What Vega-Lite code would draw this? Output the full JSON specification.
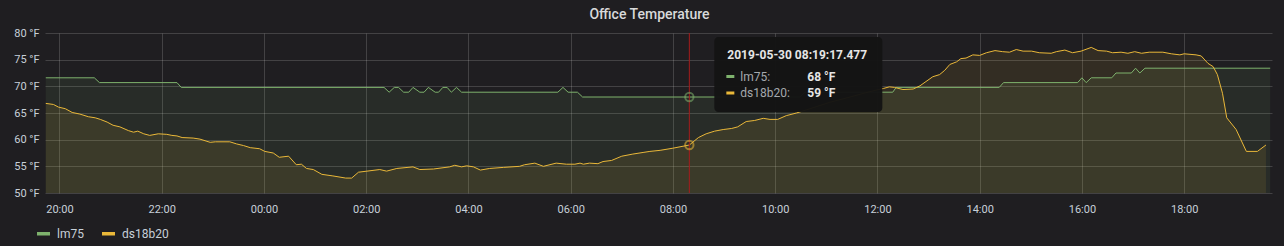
{
  "$schema": "https://vega.github.io/schema/vega-lite/v6.json",
  "width": 1227,
  "height": 160,
  "autosize": {"type": "none"},
  "padding": {"left": 45, "top": 33, "right": 12, "bottom": 53},
  "background": "#1f1e21",
  "title": {"text": "Office Temperature", "font": "Roboto", "fontSize": 14, "fontWeight": 500, "color": "#d8d9da", "anchor": "middle", "frame": "group", "dx": -9, "offset": 5},
  "config": {
    "view": {"stroke": null},
    "font": "Roboto",
    "axis": {"labelFont": "Roboto", "labelFontSize": 11, "labelColor": "#c7d0d9", "gridColor": "#ffffff", "gridOpacity": 0.16, "gridWidth": 1, "domain": false, "ticks": false}
  },
  "datasets": {
    "temps": [
      {"time": "2019-05-29T19:44", "sensor": "lm75", "temp": 71.6},
      {"time": "2019-05-29T20:41", "sensor": "lm75", "temp": 71.6},
      {"time": "2019-05-29T20:47", "sensor": "lm75", "temp": 70.7},
      {"time": "2019-05-29T22:18", "sensor": "lm75", "temp": 70.7},
      {"time": "2019-05-29T22:23", "sensor": "lm75", "temp": 69.8},
      {"time": "2019-05-30T02:21", "sensor": "lm75", "temp": 69.8},
      {"time": "2019-05-30T02:27", "sensor": "lm75", "temp": 68.9},
      {"time": "2019-05-30T02:33", "sensor": "lm75", "temp": 69.8},
      {"time": "2019-05-30T02:38", "sensor": "lm75", "temp": 69.8},
      {"time": "2019-05-30T02:44", "sensor": "lm75", "temp": 68.9},
      {"time": "2019-05-30T02:50", "sensor": "lm75", "temp": 68.9},
      {"time": "2019-05-30T02:55", "sensor": "lm75", "temp": 69.8},
      {"time": "2019-05-30T03:03", "sensor": "lm75", "temp": 68.9},
      {"time": "2019-05-30T03:08", "sensor": "lm75", "temp": 68.9},
      {"time": "2019-05-30T03:13", "sensor": "lm75", "temp": 69.8},
      {"time": "2019-05-30T03:21", "sensor": "lm75", "temp": 68.9},
      {"time": "2019-05-30T03:25", "sensor": "lm75", "temp": 68.9},
      {"time": "2019-05-30T03:30", "sensor": "lm75", "temp": 69.8},
      {"time": "2019-05-30T03:35", "sensor": "lm75", "temp": 69.8},
      {"time": "2019-05-30T03:40", "sensor": "lm75", "temp": 68.9},
      {"time": "2019-05-30T03:46", "sensor": "lm75", "temp": 69.8},
      {"time": "2019-05-30T03:52", "sensor": "lm75", "temp": 68.9},
      {"time": "2019-05-30T05:45", "sensor": "lm75", "temp": 68.9},
      {"time": "2019-05-30T05:51", "sensor": "lm75", "temp": 69.8},
      {"time": "2019-05-30T05:57", "sensor": "lm75", "temp": 68.9},
      {"time": "2019-05-30T06:08", "sensor": "lm75", "temp": 68.9},
      {"time": "2019-05-30T06:14", "sensor": "lm75", "temp": 68.0},
      {"time": "2019-05-30T08:19:17", "sensor": "lm75", "temp": 68.0},
      {"time": "2019-05-30T10:29", "sensor": "lm75", "temp": 68.0},
      {"time": "2019-05-30T10:35", "sensor": "lm75", "temp": 68.9},
      {"time": "2019-05-30T12:18", "sensor": "lm75", "temp": 68.9},
      {"time": "2019-05-30T12:22", "sensor": "lm75", "temp": 69.8},
      {"time": "2019-05-30T14:23", "sensor": "lm75", "temp": 69.8},
      {"time": "2019-05-30T14:28", "sensor": "lm75", "temp": 70.7},
      {"time": "2019-05-30T15:55", "sensor": "lm75", "temp": 70.7},
      {"time": "2019-05-30T16:00", "sensor": "lm75", "temp": 71.6},
      {"time": "2019-05-30T16:05", "sensor": "lm75", "temp": 70.7},
      {"time": "2019-05-30T16:11", "sensor": "lm75", "temp": 71.6},
      {"time": "2019-05-30T16:35", "sensor": "lm75", "temp": 71.6},
      {"time": "2019-05-30T16:40", "sensor": "lm75", "temp": 72.5},
      {"time": "2019-05-30T16:58", "sensor": "lm75", "temp": 72.5},
      {"time": "2019-05-30T17:03", "sensor": "lm75", "temp": 73.4},
      {"time": "2019-05-30T17:08", "sensor": "lm75", "temp": 72.5},
      {"time": "2019-05-30T17:14", "sensor": "lm75", "temp": 73.4},
      {"time": "2019-05-30T19:41", "sensor": "lm75", "temp": 73.4},
      {"time": "2019-05-29T19:44", "sensor": "ds18b20", "temp": 66.8},
      {"time": "2019-05-29T19:53", "sensor": "ds18b20", "temp": 66.6},
      {"time": "2019-05-29T19:59", "sensor": "ds18b20", "temp": 66.1},
      {"time": "2019-05-29T20:07", "sensor": "ds18b20", "temp": 65.8},
      {"time": "2019-05-29T20:15", "sensor": "ds18b20", "temp": 65.1},
      {"time": "2019-05-29T20:24", "sensor": "ds18b20", "temp": 64.8},
      {"time": "2019-05-29T20:34", "sensor": "ds18b20", "temp": 64.3},
      {"time": "2019-05-29T20:42", "sensor": "ds18b20", "temp": 64.1},
      {"time": "2019-05-29T20:48", "sensor": "ds18b20", "temp": 63.8},
      {"time": "2019-05-29T20:56", "sensor": "ds18b20", "temp": 63.3},
      {"time": "2019-05-29T21:03", "sensor": "ds18b20", "temp": 62.7},
      {"time": "2019-05-29T21:11", "sensor": "ds18b20", "temp": 62.4},
      {"time": "2019-05-29T21:21", "sensor": "ds18b20", "temp": 61.7},
      {"time": "2019-05-29T21:27", "sensor": "ds18b20", "temp": 61.4},
      {"time": "2019-05-29T21:32", "sensor": "ds18b20", "temp": 61.6},
      {"time": "2019-05-29T21:39", "sensor": "ds18b20", "temp": 61.1},
      {"time": "2019-05-29T21:46", "sensor": "ds18b20", "temp": 60.8},
      {"time": "2019-05-29T21:56", "sensor": "ds18b20", "temp": 61.1},
      {"time": "2019-05-29T22:06", "sensor": "ds18b20", "temp": 61.0},
      {"time": "2019-05-29T22:12", "sensor": "ds18b20", "temp": 60.8},
      {"time": "2019-05-29T22:18", "sensor": "ds18b20", "temp": 60.7},
      {"time": "2019-05-29T22:24", "sensor": "ds18b20", "temp": 60.4},
      {"time": "2019-05-29T22:37", "sensor": "ds18b20", "temp": 60.3},
      {"time": "2019-05-29T22:45", "sensor": "ds18b20", "temp": 60.1},
      {"time": "2019-05-29T22:57", "sensor": "ds18b20", "temp": 59.5},
      {"time": "2019-05-29T23:03", "sensor": "ds18b20", "temp": 59.6},
      {"time": "2019-05-29T23:20", "sensor": "ds18b20", "temp": 59.6},
      {"time": "2019-05-29T23:28", "sensor": "ds18b20", "temp": 59.2},
      {"time": "2019-05-29T23:36", "sensor": "ds18b20", "temp": 58.9},
      {"time": "2019-05-29T23:44", "sensor": "ds18b20", "temp": 58.5},
      {"time": "2019-05-29T23:55", "sensor": "ds18b20", "temp": 58.3},
      {"time": "2019-05-30T00:01", "sensor": "ds18b20", "temp": 57.8},
      {"time": "2019-05-30T00:11", "sensor": "ds18b20", "temp": 57.5},
      {"time": "2019-05-30T00:18", "sensor": "ds18b20", "temp": 56.7},
      {"time": "2019-05-30T00:29", "sensor": "ds18b20", "temp": 56.9},
      {"time": "2019-05-30T00:38", "sensor": "ds18b20", "temp": 55.3},
      {"time": "2019-05-30T00:44", "sensor": "ds18b20", "temp": 55.4},
      {"time": "2019-05-30T00:50", "sensor": "ds18b20", "temp": 54.6},
      {"time": "2019-05-30T00:58", "sensor": "ds18b20", "temp": 54.4},
      {"time": "2019-05-30T01:08", "sensor": "ds18b20", "temp": 53.5},
      {"time": "2019-05-30T01:21", "sensor": "ds18b20", "temp": 53.2},
      {"time": "2019-05-30T01:36", "sensor": "ds18b20", "temp": 52.8},
      {"time": "2019-05-30T01:43", "sensor": "ds18b20", "temp": 52.8},
      {"time": "2019-05-30T01:51", "sensor": "ds18b20", "temp": 53.9},
      {"time": "2019-05-30T02:01", "sensor": "ds18b20", "temp": 54.1},
      {"time": "2019-05-30T02:16", "sensor": "ds18b20", "temp": 54.4},
      {"time": "2019-05-30T02:24", "sensor": "ds18b20", "temp": 54.1},
      {"time": "2019-05-30T02:36", "sensor": "ds18b20", "temp": 54.6},
      {"time": "2019-05-30T02:55", "sensor": "ds18b20", "temp": 54.9},
      {"time": "2019-05-30T03:03", "sensor": "ds18b20", "temp": 54.4},
      {"time": "2019-05-30T03:19", "sensor": "ds18b20", "temp": 54.5},
      {"time": "2019-05-30T03:38", "sensor": "ds18b20", "temp": 54.9},
      {"time": "2019-05-30T03:44", "sensor": "ds18b20", "temp": 55.2},
      {"time": "2019-05-30T03:52", "sensor": "ds18b20", "temp": 54.9},
      {"time": "2019-05-30T03:58", "sensor": "ds18b20", "temp": 55.1},
      {"time": "2019-05-30T04:06", "sensor": "ds18b20", "temp": 54.9},
      {"time": "2019-05-30T04:14", "sensor": "ds18b20", "temp": 54.3},
      {"time": "2019-05-30T04:25", "sensor": "ds18b20", "temp": 54.6},
      {"time": "2019-05-30T04:41", "sensor": "ds18b20", "temp": 54.8},
      {"time": "2019-05-30T05:00", "sensor": "ds18b20", "temp": 55.0},
      {"time": "2019-05-30T05:06", "sensor": "ds18b20", "temp": 55.3},
      {"time": "2019-05-30T05:18", "sensor": "ds18b20", "temp": 55.6},
      {"time": "2019-05-30T05:28", "sensor": "ds18b20", "temp": 55.0},
      {"time": "2019-05-30T05:43", "sensor": "ds18b20", "temp": 55.6},
      {"time": "2019-05-30T05:55", "sensor": "ds18b20", "temp": 55.4},
      {"time": "2019-05-30T06:05", "sensor": "ds18b20", "temp": 55.4},
      {"time": "2019-05-30T06:11", "sensor": "ds18b20", "temp": 55.6},
      {"time": "2019-05-30T06:15", "sensor": "ds18b20", "temp": 55.4},
      {"time": "2019-05-30T06:22", "sensor": "ds18b20", "temp": 55.6},
      {"time": "2019-05-30T06:32", "sensor": "ds18b20", "temp": 55.5},
      {"time": "2019-05-30T06:38", "sensor": "ds18b20", "temp": 55.9},
      {"time": "2019-05-30T06:48", "sensor": "ds18b20", "temp": 56.1},
      {"time": "2019-05-30T07:00", "sensor": "ds18b20", "temp": 56.9},
      {"time": "2019-05-30T07:13", "sensor": "ds18b20", "temp": 57.3},
      {"time": "2019-05-30T07:25", "sensor": "ds18b20", "temp": 57.6},
      {"time": "2019-05-30T07:33", "sensor": "ds18b20", "temp": 57.8},
      {"time": "2019-05-30T07:45", "sensor": "ds18b20", "temp": 58.0},
      {"time": "2019-05-30T08:00", "sensor": "ds18b20", "temp": 58.4},
      {"time": "2019-05-30T08:19:17", "sensor": "ds18b20", "temp": 59.0},
      {"time": "2019-05-30T08:30", "sensor": "ds18b20", "temp": 60.4},
      {"time": "2019-05-30T08:39", "sensor": "ds18b20", "temp": 61.1},
      {"time": "2019-05-30T08:49", "sensor": "ds18b20", "temp": 61.6},
      {"time": "2019-05-30T08:59", "sensor": "ds18b20", "temp": 61.9},
      {"time": "2019-05-30T09:09", "sensor": "ds18b20", "temp": 62.1},
      {"time": "2019-05-30T09:16", "sensor": "ds18b20", "temp": 62.4},
      {"time": "2019-05-30T09:26", "sensor": "ds18b20", "temp": 63.4},
      {"time": "2019-05-30T09:36", "sensor": "ds18b20", "temp": 63.6},
      {"time": "2019-05-30T09:46", "sensor": "ds18b20", "temp": 64.0},
      {"time": "2019-05-30T09:54", "sensor": "ds18b20", "temp": 63.8},
      {"time": "2019-05-30T10:03", "sensor": "ds18b20", "temp": 63.8},
      {"time": "2019-05-30T10:13", "sensor": "ds18b20", "temp": 64.5},
      {"time": "2019-05-30T10:25", "sensor": "ds18b20", "temp": 65.0},
      {"time": "2019-05-30T10:41", "sensor": "ds18b20", "temp": 65.8},
      {"time": "2019-05-30T11:04", "sensor": "ds18b20", "temp": 67.0},
      {"time": "2019-05-30T11:28", "sensor": "ds18b20", "temp": 68.0},
      {"time": "2019-05-30T11:51", "sensor": "ds18b20", "temp": 69.0},
      {"time": "2019-05-30T12:07", "sensor": "ds18b20", "temp": 69.6},
      {"time": "2019-05-30T12:14", "sensor": "ds18b20", "temp": 69.9},
      {"time": "2019-05-30T12:20", "sensor": "ds18b20", "temp": 69.8},
      {"time": "2019-05-30T12:30", "sensor": "ds18b20", "temp": 69.4},
      {"time": "2019-05-30T12:42", "sensor": "ds18b20", "temp": 69.5},
      {"time": "2019-05-30T12:50", "sensor": "ds18b20", "temp": 70.1},
      {"time": "2019-05-30T12:57", "sensor": "ds18b20", "temp": 70.9},
      {"time": "2019-05-30T13:05", "sensor": "ds18b20", "temp": 71.8},
      {"time": "2019-05-30T13:13", "sensor": "ds18b20", "temp": 72.2},
      {"time": "2019-05-30T13:19", "sensor": "ds18b20", "temp": 73.0},
      {"time": "2019-05-30T13:25", "sensor": "ds18b20", "temp": 74.1},
      {"time": "2019-05-30T13:33", "sensor": "ds18b20", "temp": 74.6},
      {"time": "2019-05-30T13:38", "sensor": "ds18b20", "temp": 75.2},
      {"time": "2019-05-30T13:44", "sensor": "ds18b20", "temp": 75.3},
      {"time": "2019-05-30T13:52", "sensor": "ds18b20", "temp": 75.9},
      {"time": "2019-05-30T14:00", "sensor": "ds18b20", "temp": 75.8},
      {"time": "2019-05-30T14:08", "sensor": "ds18b20", "temp": 76.3},
      {"time": "2019-05-30T14:18", "sensor": "ds18b20", "temp": 76.7},
      {"time": "2019-05-30T14:27", "sensor": "ds18b20", "temp": 76.5},
      {"time": "2019-05-30T14:35", "sensor": "ds18b20", "temp": 76.4},
      {"time": "2019-05-30T14:43", "sensor": "ds18b20", "temp": 76.9},
      {"time": "2019-05-30T14:51", "sensor": "ds18b20", "temp": 76.6},
      {"time": "2019-05-30T15:01", "sensor": "ds18b20", "temp": 76.6},
      {"time": "2019-05-30T15:10", "sensor": "ds18b20", "temp": 76.3},
      {"time": "2019-05-30T15:24", "sensor": "ds18b20", "temp": 76.2},
      {"time": "2019-05-30T15:30", "sensor": "ds18b20", "temp": 76.5},
      {"time": "2019-05-30T15:40", "sensor": "ds18b20", "temp": 76.8},
      {"time": "2019-05-30T15:49", "sensor": "ds18b20", "temp": 76.3},
      {"time": "2019-05-30T15:59", "sensor": "ds18b20", "temp": 76.6},
      {"time": "2019-05-30T16:11", "sensor": "ds18b20", "temp": 77.3},
      {"time": "2019-05-30T16:19", "sensor": "ds18b20", "temp": 76.7},
      {"time": "2019-05-30T16:29", "sensor": "ds18b20", "temp": 76.6},
      {"time": "2019-05-30T16:36", "sensor": "ds18b20", "temp": 76.3},
      {"time": "2019-05-30T16:46", "sensor": "ds18b20", "temp": 76.4},
      {"time": "2019-05-30T16:54", "sensor": "ds18b20", "temp": 76.2},
      {"time": "2019-05-30T17:02", "sensor": "ds18b20", "temp": 76.5},
      {"time": "2019-05-30T17:10", "sensor": "ds18b20", "temp": 76.2},
      {"time": "2019-05-30T17:19", "sensor": "ds18b20", "temp": 76.4},
      {"time": "2019-05-30T17:35", "sensor": "ds18b20", "temp": 76.4},
      {"time": "2019-05-30T17:45", "sensor": "ds18b20", "temp": 76.1},
      {"time": "2019-05-30T17:55", "sensor": "ds18b20", "temp": 75.9},
      {"time": "2019-05-30T18:00", "sensor": "ds18b20", "temp": 76.1},
      {"time": "2019-05-30T18:14", "sensor": "ds18b20", "temp": 75.9},
      {"time": "2019-05-30T18:20", "sensor": "ds18b20", "temp": 75.7},
      {"time": "2019-05-30T18:28", "sensor": "ds18b20", "temp": 74.3},
      {"time": "2019-05-30T18:34", "sensor": "ds18b20", "temp": 73.7},
      {"time": "2019-05-30T18:39", "sensor": "ds18b20", "temp": 72.2},
      {"time": "2019-05-30T18:45", "sensor": "ds18b20", "temp": 68.7},
      {"time": "2019-05-30T18:50", "sensor": "ds18b20", "temp": 64.1},
      {"time": "2019-05-30T19:01", "sensor": "ds18b20", "temp": 61.9},
      {"time": "2019-05-30T19:13", "sensor": "ds18b20", "temp": 57.8},
      {"time": "2019-05-30T19:26", "sensor": "ds18b20", "temp": 57.8},
      {"time": "2019-05-30T19:36", "sensor": "ds18b20", "temp": 59.0}
    ],
    "hover": [
      {"time": "2019-05-30T08:19:17.477", "sensor": "lm75", "temp": 68},
      {"time": "2019-05-30T08:19:17.477", "sensor": "ds18b20", "temp": 59}
    ]
  },
  "layer": [
    {
      "data": {"name": "temps"},
      "mark": {"type": "area", "opacity": 0.1},
      "encoding": {
        "x": {"field": "time", "type": "temporal", "title": null, "scale": {"domain": [{"year": 2019, "month": 5, "date": 29, "hours": 19, "minutes": 43, "seconds": 6}, {"year": 2019, "month": 5, "date": 30, "hours": 19, "minutes": 43, "seconds": 6}]}, "axis": {"format": "%H:%M", "values": [{"year": 2019, "month": 5, "date": 29, "hours": 20}, {"year": 2019, "month": 5, "date": 29, "hours": 22}, {"year": 2019, "month": 5, "date": 30, "hours": 0}, {"year": 2019, "month": 5, "date": 30, "hours": 2}, {"year": 2019, "month": 5, "date": 30, "hours": 4}, {"year": 2019, "month": 5, "date": 30, "hours": 6}, {"year": 2019, "month": 5, "date": 30, "hours": 8}, {"year": 2019, "month": 5, "date": 30, "hours": 10}, {"year": 2019, "month": 5, "date": 30, "hours": 12}, {"year": 2019, "month": 5, "date": 30, "hours": 14}, {"year": 2019, "month": 5, "date": 30, "hours": 16}, {"year": 2019, "month": 5, "date": 30, "hours": 18}], "labelPadding": 10, "labelFlush": false}},
        "y": {"field": "temp", "type": "quantitative", "title": null, "stack": null, "scale": {"domain": [50, 80], "zero": false, "nice": false}, "axis": {"tickCount": 7, "labelExpr": "datum.label + ' °F'", "labelPadding": 6, "labelOverlap": false}},
        "y2": {"datum": 50},
        "color": {"field": "sensor", "type": "nominal", "title": null, "scale": {"domain": ["lm75", "ds18b20"], "range": ["#7eb26d", "#eab839"]}, "legend": {"orient": "none", "legendX": -10, "legendY": 192, "direction": "horizontal", "title": null, "symbolType": "stroke", "symbolSize": 169, "symbolStrokeWidth": 3.5, "symbolOpacity": 1, "labelFont": "Roboto", "labelFontSize": 12, "labelColor": "#c7d0d9", "labelOffset": 5, "columnPadding": 11, "encode": {"symbols": {"update": {"opacity": {"value": 1}, "strokeOpacity": {"value": 1}, "fillOpacity": {"value": 1}}}}}}
      }
    },
    {
      "data": {"name": "temps"},
      "mark": {"type": "line", "strokeWidth": 1},
      "encoding": {
        "x": {"field": "time", "type": "temporal"},
        "y": {"field": "temp", "type": "quantitative"},
        "color": {"field": "sensor", "type": "nominal"}
      }
    },
    {
      "data": {"name": "hover"},
      "transform": [{"filter": "datum.sensor === 'lm75'"}],
      "mark": {"type": "rule", "color": "#a51c1c", "strokeWidth": 1},
      "encoding": {"x": {"field": "time", "type": "temporal"}}
    },
    {
      "data": {"name": "hover"},
      "mark": {"type": "point", "filled": false, "strokeWidth": 2, "size": 70, "opacity": 0.55},
      "encoding": {
        "x": {"field": "time", "type": "temporal"},
        "y": {"field": "temp", "type": "quantitative"},
        "color": {"field": "sensor", "type": "nominal"}
      }
    },
    {
      "data": {"name": "hover"},
      "transform": [{"filter": "datum.sensor === 'lm75'"}],
      "mark": {"type": "rect", "fill": "#141414", "opacity": 0.97, "cornerRadius": 4, "xOffset": 25, "x2Offset": 193, "yOffset": 4, "y2Offset": 79},
      "encoding": {
        "x": {"field": "time", "type": "temporal"},
        "x2": {"field": "time"},
        "y": {"datum": 80},
        "y2": {"datum": 80}
      }
    },
    {
      "data": {"name": "hover"},
      "transform": [{"filter": "datum.sensor === 'lm75'"}],
      "mark": {"type": "text", "align": "left", "baseline": "middle", "dx": 38, "dy": 22, "font": "Roboto", "fontSize": 12, "fontWeight": "bold", "color": "#e6e6e6"},
      "encoding": {
        "x": {"field": "time", "type": "temporal"},
        "y": {"datum": 80},
        "text": {"field": "time", "type": "temporal", "format": "%Y-%m-%d %H:%M:%S.%L"}
      }
    },
    {
      "data": {"name": "hover"},
      "transform": [{"filter": "datum.sensor === 'lm75'"}],
      "mark": {"type": "rule", "strokeWidth": 3, "xOffset": 37, "x2Offset": 45, "yOffset": 43.5},
      "encoding": {
        "x": {"field": "time", "type": "temporal"},
        "x2": {"field": "time"},
        "y": {"datum": 80},
        "color": {"field": "sensor", "type": "nominal"}
      }
    },
    {
      "data": {"name": "hover"},
      "transform": [{"filter": "datum.sensor === 'ds18b20'"}],
      "mark": {"type": "rule", "strokeWidth": 3, "xOffset": 37, "x2Offset": 45, "yOffset": 60},
      "encoding": {
        "x": {"field": "time", "type": "temporal"},
        "x2": {"field": "time"},
        "y": {"datum": 80},
        "color": {"field": "sensor", "type": "nominal"}
      }
    },
    {
      "data": {"name": "hover"},
      "transform": [{"filter": "datum.sensor === 'lm75'"}, {"calculate": "datum.sensor + ':'", "as": "label"}],
      "mark": {"type": "text", "align": "left", "baseline": "middle", "dx": 51, "dy": 43.5, "font": "Roboto", "fontSize": 12, "color": "#a5a9ad"},
      "encoding": {"x": {"field": "time", "type": "temporal"}, "y": {"datum": 80}, "text": {"field": "label"}}
    },
    {
      "data": {"name": "hover"},
      "transform": [{"filter": "datum.sensor === 'lm75'"}, {"calculate": "format(datum.temp, 'd') + ' °F'", "as": "vlabel"}],
      "mark": {"type": "text", "align": "left", "baseline": "middle", "dx": 118, "dy": 43.5, "font": "Roboto", "fontSize": 12, "fontWeight": "bold", "color": "#e6e6e6"},
      "encoding": {"x": {"field": "time", "type": "temporal"}, "y": {"datum": 80}, "text": {"field": "vlabel"}}
    },
    {
      "data": {"name": "hover"},
      "transform": [{"filter": "datum.sensor === 'ds18b20'"}, {"calculate": "datum.sensor + ':'", "as": "label"}],
      "mark": {"type": "text", "align": "left", "baseline": "middle", "dx": 51, "dy": 60, "font": "Roboto", "fontSize": 12, "color": "#a5a9ad"},
      "encoding": {"x": {"field": "time", "type": "temporal"}, "y": {"datum": 80}, "text": {"field": "label"}}
    },
    {
      "data": {"name": "hover"},
      "transform": [{"filter": "datum.sensor === 'ds18b20'"}, {"calculate": "format(datum.temp, 'd') + ' °F'", "as": "vlabel"}],
      "mark": {"type": "text", "align": "left", "baseline": "middle", "dx": 118, "dy": 60, "font": "Roboto", "fontSize": 12, "fontWeight": "bold", "color": "#e6e6e6"},
      "encoding": {"x": {"field": "time", "type": "temporal"}, "y": {"datum": 80}, "text": {"field": "vlabel"}}
    }
  ]
}
